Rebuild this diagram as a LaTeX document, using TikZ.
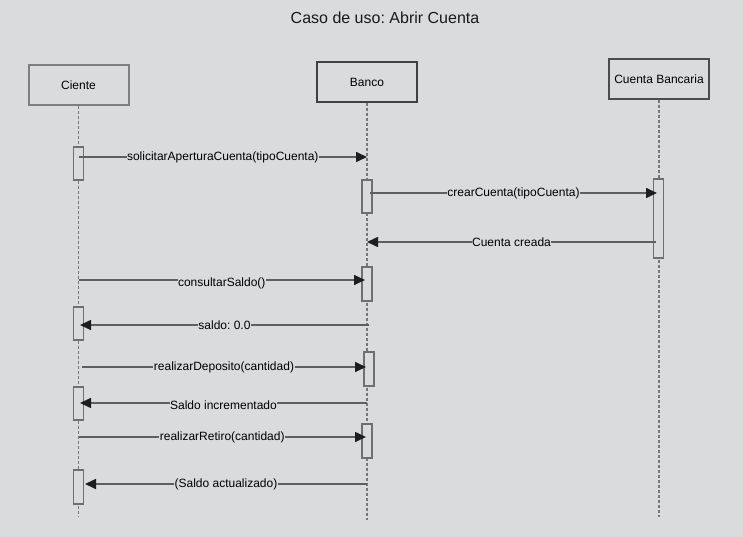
\documentclass[tikz,border=0pt]{standalone}
\usepackage{fontspec}
\setmainfont{Liberation Sans}
\usetikzlibrary{arrows.meta}
\definecolor{bg}{RGB}{218,219,221}
\definecolor{ln}{RGB}{95,95,95}
\definecolor{tip}{RGB}{30,30,30}
\frenchspacing
\begin{document}
\begin{tikzpicture}[x=1pt,y=-1pt,
  actor/.style={draw=ln,line width=1.3pt,fill=bg,minimum width=100pt,minimum height=40pt,inner sep=0pt,font=\fontsize{12}{14}\selectfont,text=black},
  life/.style={draw=ln!85,line width=1.5pt,dash pattern=on 3pt off 2pt},
  act/.style={draw=ln!90,line width=1.5pt,fill=bg,minimum width=10pt,inner sep=0pt},
  msg/.style={draw=ln,line width=1.6pt,-{Triangle[length=11pt,width=10pt,fill=tip,color=tip]}},
  lbl/.style={fill=bg,inner sep=0.5pt,font=\fontsize{12}{14}\selectfont,text=black}]
\useasboundingbox[fill=bg] (0,0) rectangle (743,537);
\node[font=\fontsize{16}{19}\selectfont,text=black!90] (title) at (385,18) {Caso de uso: Abrir Cuenta};
% actors
\node[actor,draw=ln!80,line width=2pt] (c) at (78.5,85) {Ciente};
\node[actor,draw=black!75,line width=1.3pt] (b) at (367,82) {Banco};
\node[actor,draw=black!70,line width=1.5pt] (cb) at (659,79) {Cuenta Bancaria};
% lifeline ends
\coordinate (cend) at (78.5,517);
\coordinate (bend) at (367,520);
\coordinate (cbend) at (659,517);
\draw[life] (c.south) -- (cend);
\draw[life] (b.south) -- (bend);
\draw[life] (cb.south) -- (cbend);
% activations
\node[act,minimum height=33pt] (ca1) at (78.5,163.5) {};
\node[act,minimum height=33pt] (ba1) at (367,196.5) {};
\node[act,minimum height=79pt] (cba1) at (658.5,218.5) {};
\node[act,minimum height=34pt] (ba2) at (367,284) {};
\node[act,minimum height=33pt] (ca2) at (78.5,323.5) {};
\node[act,minimum height=34pt] (ba3) at (369,369) {};
\node[act,minimum height=33pt] (ca3) at (78.5,403.5) {};
\node[act,minimum height=34pt] (ba4) at (367,441) {};
\node[act,minimum height=34pt] (ca4) at (78.5,487) {};
% message endpoints
\coordinate (m1s) at (78.5,157); \coordinate (m1e) at (367,157);
\coordinate (m2s) at (370,193); \coordinate (m2e) at (657,193);
\coordinate (m3s) at (656,242); \coordinate (m3e) at (367,242);
\coordinate (m4s) at (78.5,280); \coordinate (m4e) at (365,280);
\coordinate (m5s) at (369,325); \coordinate (m5e) at (80,325);
\coordinate (m6s) at (82,367); \coordinate (m6e) at (366,367);
\coordinate (m7s) at (367,403); \coordinate (m7e) at (80,403);
\coordinate (m8s) at (78.5,437); \coordinate (m8e) at (366,437);
\coordinate (m9s) at (367,484); \coordinate (m9e) at (85,484);
\draw[msg] (m1s) -- node[lbl] {solicitarAperturaCuenta(tipoCuenta)} (m1e);
\draw[msg] (m2s) -- node[lbl] {crearCuenta(tipoCuenta)} (m2e);
\draw[msg] (m3s) -- node[lbl] {Cuenta creada} (m3e);
\draw[msg] (m4s) -- node[lbl,yshift=-3.5pt] {consultarSaldo()} (m4e);
\draw[msg] (m5s) -- node[lbl] {saldo: 0.0} (m5e);
\draw[msg] (m6s) -- node[lbl] {realizarDeposito(cantidad)} (m6e);
\draw[msg] (m7s) -- node[lbl,yshift=-2pt] {Saldo incrementado} (m7e);
\draw[msg] (m8s) -- node[lbl] {realizarRetiro(cantidad)} (m8e);
\draw[msg] (m9s) -- node[lbl] {(Saldo actualizado)} (m9e);
\end{tikzpicture}
\end{document}
